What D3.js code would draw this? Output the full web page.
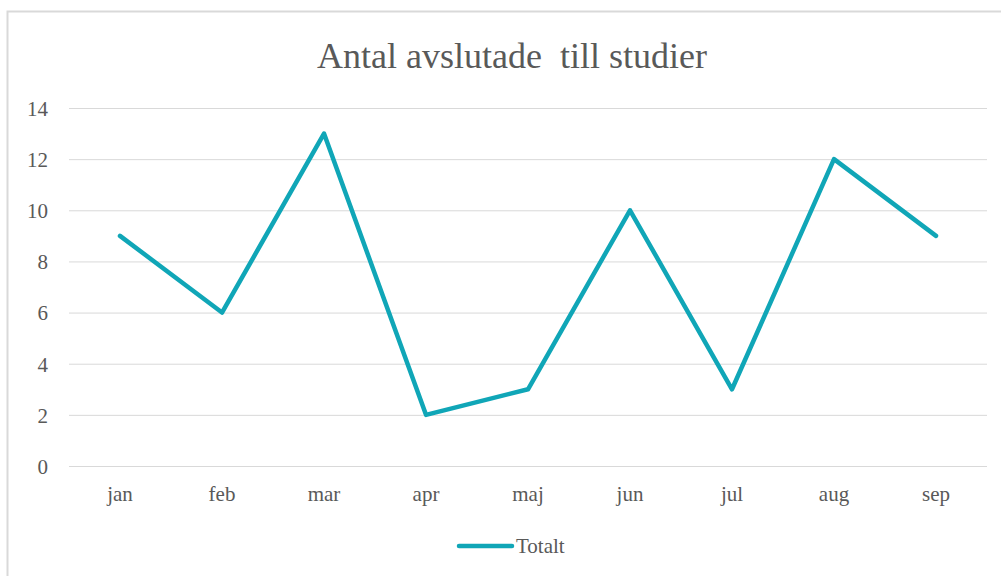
<!DOCTYPE html>
<html>
<head>
<meta charset="utf-8">
<script src="https://cdn.jsdelivr.net/npm/d3@7"></script>
<style>
    body { margin: 0; background: #fff; }
    text { font-family: "Liberation Serif", "Times New Roman", serif; fill: #595959; }
</style>
</head>
<body>
<script>
let months = ['jan', 'feb', 'mar', 'apr', 'maj', 'jun', 'jul', 'aug', 'sep']
let totalt = [9, 6, 13, 2, 3, 10, 3, 12, 9]
let yTicks = [0, 2, 4, 6, 8, 10, 12, 14]

{
    let width = 1001
    let height = 576
    let svg = d3.select('body').append('svg')
        .attr('width', width)
        .attr('height', height)

    // chart frame (right/bottom edges run off the picture)
    svg.append('rect')
        .attr('x', 7.5).attr('y', 11.5)
        .attr('width', 1010).attr('height', 600)
        .attr('fill', '#fff')
        .attr('stroke', '#d9d9d9')
        .attr('stroke-width', 2)

    svg.append('text')
        .attr('x', 512).attr('y', 68)
        .attr('text-anchor', 'middle')
        .style('font-size', '36px')
        .style('white-space', 'pre')
        .text('Antal avslutade  till studier')

    let x = d3.scaleBand().domain(months).range([69, 987])
    let y = d3.scaleLinear().domain([0, 14]).range([466, 108])

    // gridlines
    svg.append('g').selectAll('line').data(yTicks)
        .enter()
        .append('line')
        .attr('x1', 69).attr('x2', 987)
        .attr('y1', d => y(d) + 0.5).attr('y2', d => y(d) + 0.5)
        .attr('stroke', '#d9d9d9')
        .attr('stroke-width', 1)

    let yAxis = svg.append('g')
        .attr('transform', 'translate(48,0)')
        .call(d3.axisLeft(y).tickValues(yTicks).tickSize(0).tickPadding(0))
    yAxis.select('.domain').remove()
    yAxis.selectAll('text').style('font-size', '21px').attr('dy', '0.35em').attr('fill', '#595959')

    let xAxis = svg.append('g')
        .attr('transform', 'translate(0,466)')
        .call(d3.axisBottom(x).tickSize(0).tickPadding(20))
    xAxis.select('.domain').remove()
    xAxis.selectAll('text').style('font-size', '21px').attr('fill', '#595959')

    let line = d3.line()
        .x((d, i) => x(months[i]) + x.bandwidth() / 2)
        .y(d => y(d))
    svg.append('path')
        .attr('d', line(totalt))
        .attr('stroke', '#10a6b7')
        .attr('stroke-width', 4.5)
        .attr('stroke-linejoin', 'round')
        .attr('stroke-linecap', 'round')
        .attr('fill', 'none')

    // legend
    svg.append('line')
        .attr('x1', 459).attr('x2', 512)
        .attr('y1', 546).attr('y2', 546)
        .attr('stroke', '#10a6b7')
        .attr('stroke-width', 4.5)
        .attr('stroke-linecap', 'round')
    svg.append('text')
        .attr('x', 516).attr('y', 553)
        .style('font-size', '21px')
        .text('Totalt')
}
</script>
</body>
</html>
